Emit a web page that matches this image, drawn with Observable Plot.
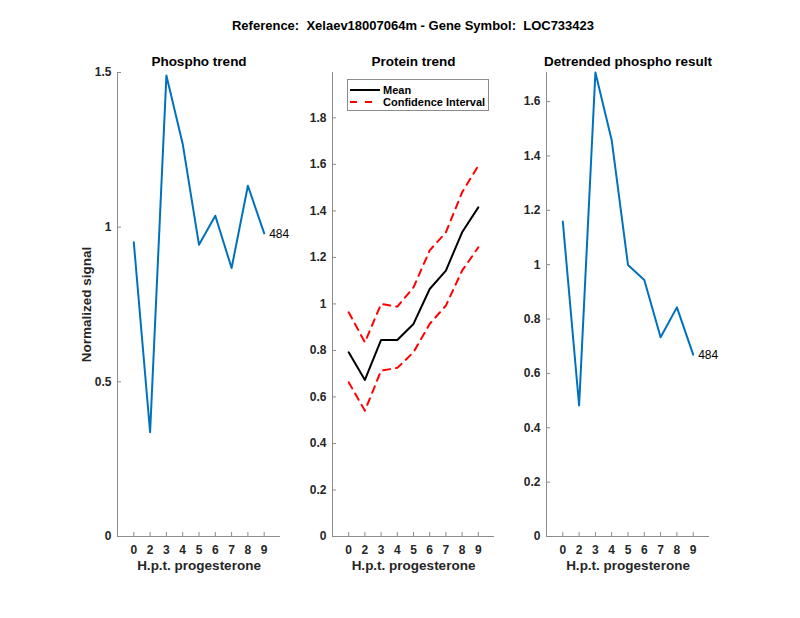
<!DOCTYPE html>
<html>
<head>
<meta charset="utf-8">
<script src="https://cdn.jsdelivr.net/npm/d3@7"></script>
<script src="https://cdn.jsdelivr.net/npm/@observablehq/plot@0.6"></script>
<style>
  html, body { margin: 0; padding: 0; background: white; }
  #fig { position: relative; width: 800px; height: 618px; font-family: "Liberation Sans", Arial, Helvetica, sans-serif; overflow: hidden; }
  #title { position: absolute; top: 18px; left: 413px; transform: translateX(-50%); font-size: 13px; line-height: 16px; font-weight: bold; white-space: pre; color: #000; }
  .panel { position: absolute; top: 0; }
  #legend { position: absolute; left: 347px; top: 79px; width: 140px; height: 30px; border: 1px solid #8c8c8c; background: white; font-size: 11px; font-weight: bold; color: #000; }
  #legend .row { position: absolute; left: 0; height: 14px; line-height: 14px; white-space: nowrap; }
  #legend svg { position: absolute; left: 1px; top: 0; }
  #legend span { position: absolute; left: 35px; top: 0; }
</style>
</head>
<body>
<div id="fig">
  <div id="title">Reference:  Xelaev18007064m - Gene Symbol:  LOC733423</div>
  <div id="legend">
    <div class="row" style="top:3px"><svg width="32" height="14"><line x1="1" x2="31" y1="7" y2="7" stroke="#000" stroke-width="2"/></svg><span>Mean</span></div>
    <div class="row" style="top:15px"><svg width="32" height="14"><line x1="1" x2="31" y1="7" y2="7" stroke="#ff0000" stroke-width="2" stroke-dasharray="7,8"/></svg><span>Confidence Interval</span></div>
  </div>
</div>
<script>
// ---- Data ----
const xLabels = ["0", "2", "3", "4", "5", "6", "7", "8", "9"];
const positions = [1, 2, 3, 4, 5, 6, 7, 8, 9];
const phospho = [0.951, 0.337, 1.490, 1.269, 0.943, 1.037, 0.868, 1.134, 0.980];
const proteinMean = [0.792, 0.673, 0.845, 0.845, 0.914, 1.064, 1.143, 1.308, 1.415];
const proteinUpper = [0.964, 0.835, 1.000, 0.988, 1.071, 1.230, 1.308, 1.480, 1.594];
const proteinLower = [0.663, 0.541, 0.713, 0.725, 0.792, 0.914, 0.993, 1.143, 1.243];
const detrended = [1.159, 0.482, 1.707, 1.458, 0.999, 0.944, 0.733, 0.843, 0.669];
const yTicks1 = [0, 0.5, 1, 1.5];
const yTicks2 = [0, 0.2, 0.4, 0.6, 0.8, 1, 1.2, 1.4, 1.6, 1.8];
const yTicks3 = [0, 0.2, 0.4, 0.6, 0.8, 1, 1.2, 1.4, 1.6];
const endLabel = "484";

const rows = (vals) => positions.map((p, i) => ({x: p, y: vals[i]}));

const AXIS = "#8c8c8c";
const TEXT = "#262626";
const FONT = "'Liberation Sans', Arial, Helvetica, sans-serif";

function panel({left, width, marginLeft, marginRight, yDomain, yTicks, title, series, ylabel, label}) {
  const marks = [
    Plot.ruleY([yDomain[0]], {stroke: AXIS, strokeWidth: 1}),
    Plot.ruleX([0], {stroke: AXIS, strokeWidth: 1}),
    Plot.axisX({
      ticks: positions,
      tickFormat: d => xLabels[positions.indexOf(d)],
      tickSize: -4, tickPadding: 13,
      stroke: AXIS, fill: TEXT, fontSize: 12, fontWeight: "bold",
      label: null
    }),
    Plot.axisY({
      ticks: yTicks,
      tickFormat: d => String(d),
      tickSize: -4, tickPadding: 10,
      stroke: AXIS, fill: TEXT, fontSize: 12, fontWeight: "bold",
      label: null
    }),
    ...series.map(s => Plot.line(rows(s.values), {x: "x", y: "y", stroke: s.color, strokeWidth: 2, strokeDasharray: s.dash})),
    Plot.text([title], {frameAnchor: "top", lineAnchor: "middle", textAnchor: "middle", dy: -11, text: d => d, fontSize: 13.5, fontWeight: "bold", fill: "#000"}),
    Plot.text(["H.p.t. progesterone"], {frameAnchor: "bottom", lineAnchor: "middle", textAnchor: "middle", dy: 29, text: d => d, fontSize: 13.5, fontWeight: "bold", fill: TEXT})
  ];
  if (ylabel) {
    marks.push(Plot.text([ylabel], {frameAnchor: "left", lineAnchor: "middle", textAnchor: "middle", dx: -31, rotate: -90, text: d => d, fontSize: 13.5, fontWeight: "bold", fill: TEXT}));
  }
  if (label) {
    const r = rows(label.values);
    marks.push(Plot.text([r[r.length - 1]], {x: "x", y: "y", text: () => endLabel, textAnchor: "start", dx: 5, dy: 1, fontSize: 12, fill: "#000"}));
  }
  const svg = Plot.plot({
    width, height: 618,
    marginTop: 72, marginBottom: 82, marginLeft, marginRight,
    style: {background: "transparent", overflow: "visible", fontFamily: FONT},
    x: {domain: [0, 10]},
    y: {domain: yDomain},
    marks
  });
  svg.classList.add("panel");
  svg.style.left = left + "px";
  return svg;
}

const fig = document.getElementById("fig");
const legend = document.getElementById("legend");

fig.insertBefore(panel({
  left: 0, width: 295, marginLeft: 117, marginRight: 15,
  yDomain: [0, 1.5], yTicks: yTicks1, title: "Phospho trend",
  series: [{values: phospho, color: "#0072BD"}],
  ylabel: "Normalized signal",
  label: {values: phospho}
}), legend);

fig.insertBefore(panel({
  left: 295, width: 220, marginLeft: 37, marginRight: 21,
  yDomain: [0, 1.995], yTicks: yTicks2, title: "Protein trend",
  series: [
    {values: proteinUpper, color: "#ff0000", dash: "7,6"},
    {values: proteinLower, color: "#ff0000", dash: "7,6"},
    {values: proteinMean, color: "#000000"}
  ]
}), legend);

fig.insertBefore(panel({
  left: 515, width: 285, marginLeft: 31, marginRight: 91,
  yDomain: [0, 1.707], yTicks: yTicks3, title: "Detrended phospho result",
  series: [{values: detrended, color: "#0072BD"}],
  label: {values: detrended}
}), legend);
</script>
</body>
</html>
